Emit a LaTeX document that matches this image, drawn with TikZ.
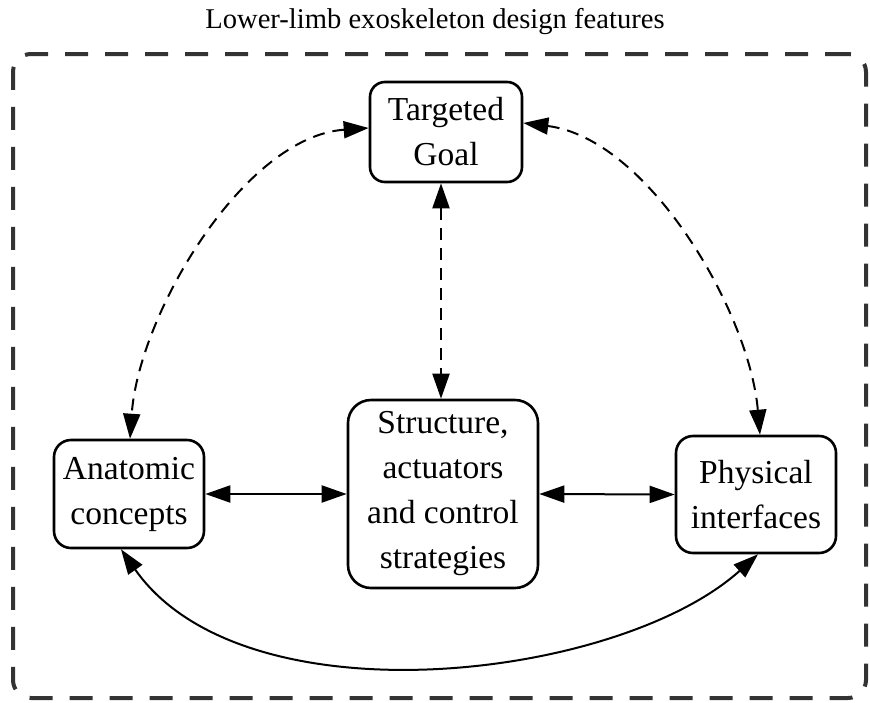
\documentclass[tikz,border=0pt]{standalone}
\usepackage{fontspec}
\setmainfont{Liberation Serif}
\newfontfamily\diagfont{Liberation Serif}
\usetikzlibrary{arrows.meta}
\begin{document}
\begin{tikzpicture}[x=1pt,y=1pt,
  box/.style={draw=black, line width=2.6pt, align=center, inner sep=0pt,
    font=\diagfont\fontsize{33.5}{45}\selectfont},
  link/.style={line width=2pt,
    {Triangle[length=25pt,width=17pt]}-{Triangle[length=25pt,width=17pt]}},
  dlink/.style={link, dash pattern=on 12pt off 8pt},
  frame/.style={draw=black!80, line width=4pt, dash pattern=on 23pt off 17pt,
    rounded corners=18pt, inner sep=0pt}]
\useasboundingbox (0,0) rectangle (870,-702);
\node[font=\diagfont\fontsize{28.6}{34}\selectfont] (title) at (435,-22) {Lower-limb exoskeleton design features};
\node[frame, minimum width=853pt, minimum height=644pt] (fr) at (439.5,-376) {};
\node[box, rounded corners=15pt, minimum width=152pt, minimum height=100pt] (T) at (446,-132) {Targeted\\Goal};
\node[box, rounded corners=17pt, minimum width=150pt, minimum height=108pt] (A) at (129,-494) {Anatomic\\concepts};
\node[box, rounded corners=23pt, minimum width=190pt, minimum height=188pt] (S) at (443,-494) {Structure,\\actuators\\and control\\strategies};
\node[box, rounded corners=17pt, minimum width=160pt, minimum height=117pt] (P) at (756,-494.5) {Physical\\interfaces};
\draw[link] (A.east) -- (S.west);
\draw[link] (S.east) -- (P.west);
\draw[dlink] ([xshift=-5pt]T.south) -- ([xshift=-2pt]S.north);
\draw[dlink] ([yshift=4pt]T.west) to[out=-176, in=86, out distance=125pt, in distance=125pt] ([xshift=1pt]A.north);
\draw[dlink] ([yshift=9pt]T.east) to[out=-7, in=95, out distance=125pt, in distance=125pt] ([xshift=4pt]P.north);
\draw[link] ([xshift=-8pt]A.south) to[out=-55, in=-138, out distance=214pt, in distance=188pt] ([xshift=2pt]P.south);
\end{tikzpicture}
\end{document}
